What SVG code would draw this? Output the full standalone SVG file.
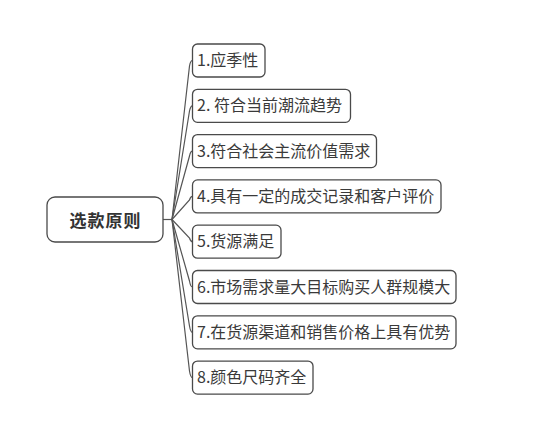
<svg xmlns="http://www.w3.org/2000/svg" width="550" height="433" viewBox="0 0 550 433">
<style>
.box{fill:#fff;stroke:#4a4a4a;stroke-width:1.3}
.t{font-family:"Noto Sans CJK SC","Noto Sans",sans-serif;font-size:16px;fill:#3a3a3a}
.root{font-family:"Noto Sans CJK SC","Noto Sans",sans-serif;font-size:17px;font-weight:bold;fill:#333;letter-spacing:1px}
.c{fill:none;stroke:#555;stroke-width:1.2}
</style>
<rect width="550" height="433" fill="#fff"/>
<g id="connectors">
<path class="c" d="M163 219.5 H172"/>
<path class="c" d="M172 219.5 L189.5 66 Q190.5 60.5 192.5 60.5"/>
<path class="c" d="M172 219.5 L189.5 111 Q190.5 105.8 192.5 105.8"/>
<path class="c" d="M172 219.5 L189.5 156 Q190.5 151.1 192.5 151.1"/>
<path class="c" d="M172 219.5 L189.5 200 Q190.5 196.4 192.5 196.4"/>
<path class="c" d="M172 219.5 L189.5 238 Q190.5 241.7 192.5 241.7"/>
<path class="c" d="M172 219.5 L189.5 281 Q190.5 287 192.5 287"/>
<path class="c" d="M172 219.5 L189.5 326 Q190.5 332.3 192.5 332.3"/>
<path class="c" d="M172 219.5 L189.5 371 Q190.5 377.6 192.5 377.6"/>
</g>
<g id="root">
<rect class="box" x="47" y="197" width="116" height="45" rx="8"/>
<text class="root" x="105.5" y="226.5" text-anchor="middle">选款原则</text>
</g>
<g id="n1"><rect class="box" x="192.5" y="44" width="72.5" height="33" rx="5"/><text class="t" x="197" y="66">1.应季性</text></g>
<g id="n2"><rect class="box" x="192.5" y="89.3" width="158" height="33" rx="5"/><text class="t" x="197" y="111.3">2. 符合当前潮流趋势</text></g>
<g id="n3"><rect class="box" x="192.5" y="134.6" width="184" height="33" rx="5"/><text class="t" x="197" y="156.6">3.符合社会主流价值需求</text></g>
<g id="n4"><rect class="box" x="192.5" y="179.9" width="248.5" height="33" rx="5"/><text class="t" x="197" y="201.9">4.具有一定的成交记录和客户评价</text></g>
<g id="n5"><rect class="box" x="192.5" y="225.2" width="88.5" height="33" rx="5"/><text class="t" x="197" y="247.2">5.货源满足</text></g>
<g id="n6"><rect class="box" x="192.5" y="270.5" width="263.5" height="33" rx="5"/><text class="t" x="197" y="292.5">6.市场需求量大目标购买人群规模大</text></g>
<g id="n7"><rect class="box" x="192.5" y="315.8" width="263.5" height="33" rx="5"/><text class="t" x="197" y="337.8">7.在货源渠道和销售价格上具有优势</text></g>
<g id="n8"><rect class="box" x="192.5" y="361.1" width="120.5" height="33" rx="5"/><text class="t" x="197" y="383.1">8.颜色尺码齐全</text></g>
</svg>
